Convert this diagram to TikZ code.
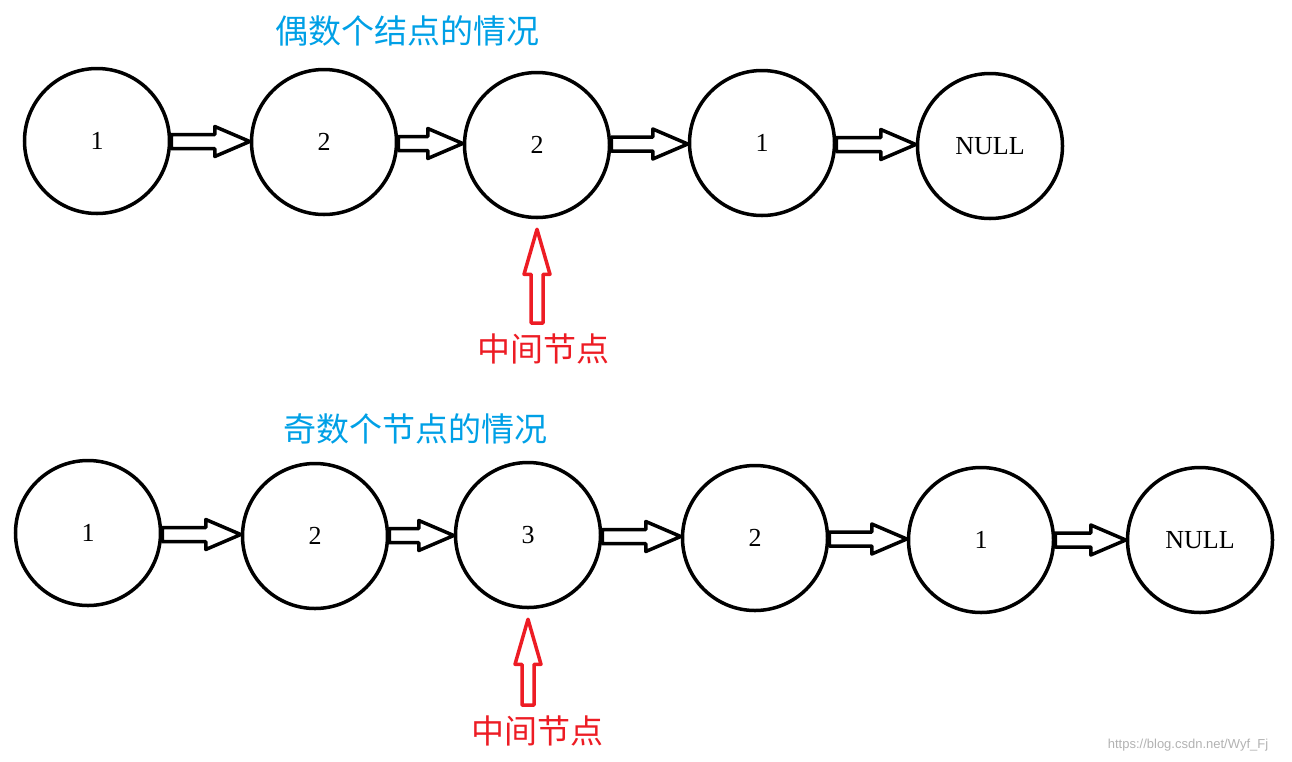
\documentclass[tikz,border=0pt]{standalone}
\usepackage{fontspec}
\setmainfont{Liberation Serif}
\newfontfamily\cjk{Noto Sans CJK SC}
\usetikzlibrary{calc}
\definecolor{tblue}{RGB}{0,160,230}
\definecolor{tred}{RGB}{237,28,36}
\newcommand{\blk}[2]{%
  \path let \p1=(#1.east), \p2=(#2.west), \n1={(\y1+\y2)/2} in
    [draw=black,line width=3.5pt,line join=round]
    (\x1,\n1+7) -- (\x2-35,\n1+7) -- (\x2-35,\n1+15) -- (\x2,\n1) -- (\x2-35,\n1-15) -- (\x2-35,\n1-7) -- (\x1,\n1-7) -- cycle;}
\newcommand{\upar}[2]{%
  \path let \p1=(#1.south), \p2=(#2) in
    [draw=tred,line width=3.5pt,line join=round]
    (\x1,\y1-10) -- (\x1+13,\y1-55) -- (\x1+6,\y1-55) -- (\x1+6,\y2) -- (\x1-6,\y2) -- (\x1-6,\y1-55) -- (\x1-13,\y1-55) -- cycle;}
\begin{document}
\begin{tikzpicture}[x=1pt,y=-1pt,
  nd/.style={circle,draw,line width=3.5pt,minimum size=145pt,inner sep=0pt,font=\fontsize{26}{30}\selectfont},
  tt/.style={font=\cjk\fontsize{33}{38}\selectfont}]
\useasboundingbox (0,0) rectangle (1292,761);
\node[nd] (a1) at (97,141) {1};
\node[nd] (a2) at (324,142) {2};
\node[nd] (a3) at (537,145) {2};
\node[nd] (a4) at (762,143) {1};
\node[nd] (a5) at (990,146) {NULL};
\blk{a1}{a2}\blk{a2}{a3}\blk{a3}{a4}\blk{a4}{a5}
\node[tt,text=tblue] (t1) at (407,31) {偶数个结点的情况};
\node[tt,text=tred] (m1) at (543,349) {中间节点};
\coordinate (e1) at (537,323);
\upar{a3}{e1}
\node[nd] (b1) at (88,533) {1};
\node[nd] (b2) at (315,536) {2};
\node[nd] (b3) at (528,535) {3};
\node[nd] (b4) at (755,538) {2};
\node[nd] (b5) at (981,540) {1};
\node[nd] (b6) at (1200,540) {NULL};
\blk{b1}{b2}\blk{b2}{b3}\blk{b3}{b4}\blk{b4}{b5}\blk{b5}{b6}
\node[tt,text=tblue] (t2) at (415,429) {奇数个节点的情况};
\node[tt,text=tred] (m2) at (537,731) {中间节点};
\coordinate (e2) at (528,705);
\upar{b3}{e2}
\node[font=\fontspec{Liberation Sans}\fontsize{13}{15}\selectfont,text=gray!60] (w) at (1188,745) {https://blog.csdn.net/Wyf\_Fj};
\end{tikzpicture}
\end{document}
